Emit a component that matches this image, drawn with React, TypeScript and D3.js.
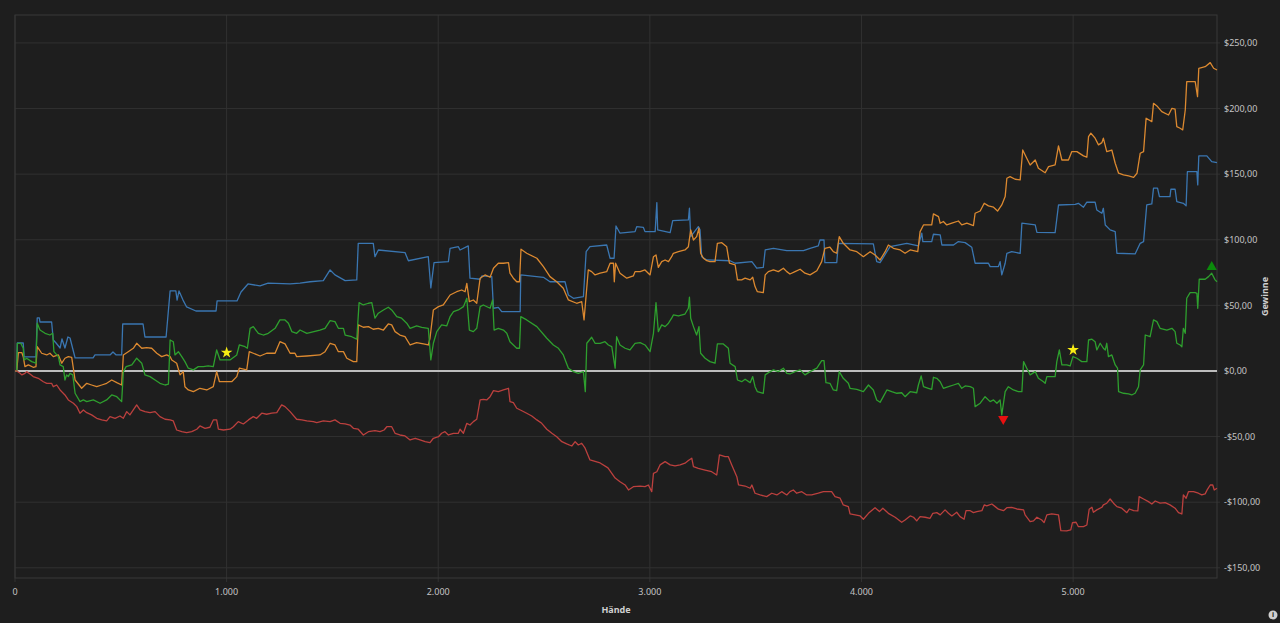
import React from 'react';
import * as d3 from 'd3';

// cumulative winnings per player, [hand, dollars]
const blueSeries: [number, number][] = [[0,0],[8,0],[11,21.3],[39,21.3],[43,10.7],[99,10.7],[105,40.4],[115,40.4],[118,37.3],[173,37.3],[181,23.6],[194,21.3],[213,17.5],[222,24.4],[236,17.5],[250,25.9],[260,25.1],[284,9.9],[369,9.9],[378,12.2],[449,12.2],[463,14.5],[478,12.2],[504,12.2],[509,35.8],[605,35.8],[614,25.9],[714,25.9],[733,61],[760,61],[766,54],[775,61],[794,54],[811,48.8],[855,45.7],[950,45.7],[955,53.4],[1049,53.4],[1068,60.2],[1101,66.3],[1158,64.8],[1196,67],[1300,66.3],[1347,67],[1394,68],[1457,68.8],[1489,77],[1512,73.2],[1560,68.8],[1615,69.4],[1622,97.3],[1693,97.3],[1701,87.1],[1717,92.2],[1843,90.2],[1859,84],[1953,87.1],[1965,63.3],[1980,82.5],[2048,83.3],[2056,93.5],[2095,94.7],[2103,92.2],[2142,95.3],[2150,70.7],[2198,69.9],[2206,72.4],[2253,71.9],[2261,47.8],[2284,48.5],[2300,45.2],[2387,45.2],[2390,73.2],[2497,71.4],[2528,68],[2599,68],[2615,57.9],[2639,55.4],[2686,56.6],[2699,90.9],[2717,94.7],[2796,96],[2812,85.9],[2831,85.9],[2840,110.5],[2859,105],[2930,106.2],[2938,110],[2969,109.5],[2977,106.2],[3025,106.2],[3033,128.3],[3037,107.5],[3096,105.4],[3108,114.6],[3182,115.1],[3187,124],[3193,102.4],[3229,110],[3237,107.5],[3245,87.1],[3269,84.6],[3379,84],[3403,82.1],[3482,83.3],[3505,78.3],[3536,79],[3545,92.2],[3584,93.5],[3647,91.7],[3726,91.7],[3757,93.5],[3796,95.3],[3804,99.8],[3823,99.8],[3827,82.5],[3883,82.5],[3891,97.3],[4056,96.8],[4072,83.3],[4088,82.5],[4120,90.9],[4135,94.7],[4214,97.3],[4269,95.3],[4285,105],[4290,98.6],[4332,98.6],[4340,104.2],[4372,103.7],[4380,96],[4435,96],[4458,98.6],[4490,97.8],[4521,94.3],[4537,82.1],[4600,82.1],[4608,79.5],[4647,79.5],[4655,83.3],[4663,73.2],[4679,82.1],[4687,89.7],[4710,90.9],[4750,89.7],[4758,112.6],[4821,111.3],[4829,105.7],[4915,105.4],[4931,126.5],[5010,127],[5025,127.8],[5049,124.8],[5065,128.6],[5104,128.6],[5112,122.7],[5136,120.2],[5143,124],[5152,111.3],[5175,107.5],[5199,106.2],[5207,89.7],[5293,89.2],[5317,97.3],[5333,98.6],[5348,126.5],[5372,127.3],[5380,139.3],[5399,139.3],[5408,132.9],[5458,132.9],[5462,138.5],[5482,138.5],[5490,129],[5521,127.8],[5534,125.8],[5540,151.9],[5585,151.9],[5589,141.8],[5594,163.9],[5632,163.9],[5655,159.5],[5680,158.8]];

const orangeSeries: [number, number][] = [[0,0],[8,0],[16,14],[32,14],[39,10.9],[47,3.3],[63,4.6],[86,2.8],[99,3.3],[105,18.5],[126,13.5],[150,12.2],[165,13.5],[181,10.9],[205,12.2],[221,5.9],[236,9.7],[252,10.9],[268,10.4],[284,-6.9],[315,-13.2],[339,-9.4],[362,-10.7],[386,-12],[410,-10.7],[433,-9.4],[457,-6.9],[481,-8.9],[504,-10.7],[512,12.2],[535,14.7],[559,17.3],[575,21.1],[599,17.3],[622,17.8],[646,17.3],[670,13.5],[693,10.9],[717,12.2],[733,10.9],[741,8.4],[764,5.9],[780,-3],[795,-0.5],[803,-12],[819,-14.5],[843,-15.8],[874,-13.2],[906,-14.5],[937,-12],[953,-0.5],[966,-8.2],[1024,-8.2],[1048,-4.3],[1060,2.1],[1095,0.8],[1107,14.7],[1126,13.5],[1158,11.4],[1189,13.5],[1229,13.5],[1252,22.3],[1276,20.6],[1300,13.5],[1323,13.5],[1331,10.9],[1379,11.4],[1441,12.2],[1465,14.7],[1489,21.1],[1512,19.8],[1528,14.7],[1552,14.7],[1568,9.7],[1599,7.1],[1615,7.1],[1622,35.1],[1646,33.3],[1670,33.8],[1693,31.8],[1717,32.5],[1741,31.2],[1764,35.8],[1780,35.1],[1796,30],[1819,27.4],[1843,26.1],[1867,19.8],[1898,21.6],[1930,20.6],[1953,19.8],[1961,24.9],[1977,46.5],[2001,49],[2024,50.3],[2056,57.9],[2087,60.4],[2111,61.7],[2127,60.4],[2135,66.8],[2147,52.8],[2166,54.1],[2182,51.6],[2198,70.7],[2221,73.2],[2245,71.4],[2261,78.3],[2284,82.1],[2308,82.1],[2332,82.5],[2339,74.5],[2355,70.7],[2371,68],[2384,68],[2391,92.8],[2418,89.7],[2466,85.9],[2497,79.5],[2528,71.9],[2560,68],[2591,63],[2615,54.1],[2654,51.6],[2678,52.8],[2689,38.9],[2697,54.1],[2709,77],[2725,75.7],[2741,73.2],[2765,74.5],[2796,75.7],[2812,82.1],[2828,82.1],[2832,68],[2838,82.1],[2859,74.5],[2891,70.7],[2922,72.4],[2930,75.7],[2954,75.7],[2977,77],[3001,73.2],[3017,87.1],[3029,88.4],[3040,79],[3056,83.3],[3072,84.6],[3088,83.3],[3103,87.1],[3111,89.7],[3135,90.9],[3166,92.2],[3182,94.7],[3193,107.5],[3206,99.8],[3221,102.4],[3232,108.8],[3240,89.7],[3253,85.9],[3269,84],[3284,83.3],[3308,83.3],[3319,97.3],[3340,97.8],[3363,94.7],[3376,82.1],[3403,80.8],[3414,69.4],[3434,69.4],[3450,70.7],[3474,69.4],[3486,71.4],[3497,64.3],[3508,60.4],[3536,59.7],[3545,73.2],[3560,75.7],[3584,77],[3607,75.7],[3631,78.3],[3647,75.7],[3662,73.9],[3686,75.7],[3710,77.5],[3733,74.5],[3757,73.2],[3789,76.4],[3812,83.3],[3827,93.5],[3851,94.3],[3867,90.9],[3883,89.7],[3895,102.4],[3914,97.3],[3946,92.2],[3978,90.9],[4009,87.1],[4041,90.9],[4064,88.4],[4088,84.6],[4112,90.9],[4127,96],[4151,93.5],[4183,92.2],[4206,89.7],[4230,92.2],[4266,90.9],[4277,106.2],[4293,111.3],[4332,111.3],[4340,119.7],[4364,117.6],[4372,112.6],[4387,113.9],[4403,111.3],[4427,112.6],[4458,114.3],[4474,111.3],[4498,112.6],[4529,110.8],[4537,120.2],[4561,121.9],[4580,127.8],[4600,125.8],[4624,124.8],[4643,121.9],[4663,126.5],[4679,132.9],[4687,146.9],[4702,148.1],[4726,146.1],[4750,145.6],[4762,168.4],[4781,162.1],[4797,157],[4821,160.8],[4836,154.5],[4868,151.1],[4884,155.7],[4915,157],[4931,171.5],[4947,160.8],[4978,160.8],[4994,167.2],[5018,167.2],[5049,163.9],[5065,162.9],[5073,178.6],[5084,181.2],[5104,177.4],[5120,172.3],[5136,174],[5143,177.4],[5159,167.2],[5183,168.4],[5199,158.3],[5215,150.7],[5238,149.4],[5262,148.6],[5286,147.6],[5302,150.7],[5317,165.9],[5333,167.2],[5345,192.6],[5372,190],[5380,204],[5399,201.5],[5419,197.6],[5451,195.1],[5467,200.2],[5482,199.5],[5490,186.2],[5506,185],[5518,183.7],[5530,198.9],[5537,220.5],[5577,220.5],[5588,209.1],[5594,230.7],[5624,231.9],[5648,235],[5664,230.7],[5680,229.4]];

const greenSeries: [number, number][] = [[0,0],[8,0],[11,21.1],[27,21.1],[39,17.3],[43,8.4],[55,9.7],[79,7.1],[99,5.9],[105,36.4],[118,31.2],[142,28.7],[165,27.4],[178,28.7],[184,14.7],[205,10.9],[213,4.6],[228,3.3],[236,-6.9],[244,-3],[252,-4.3],[260,-1.8],[273,-3],[284,-17],[307,-23.4],[323,-22.1],[339,-23.4],[370,-22.1],[402,-24.6],[433,-22.1],[457,-18.3],[481,-19.6],[504,-23.4],[512,-0.5],[525,3.3],[552,4.6],[575,9.7],[599,5.9],[614,-3],[638,-4.3],[662,-6.9],[685,-9.4],[709,-10.7],[725,-10.1],[733,23.6],[748,22.3],[756,12.2],[772,14.7],[788,10.9],[803,7.1],[819,2.1],[843,0.8],[866,3.3],[890,3.3],[913,3.8],[937,3.3],[953,16],[969,8.4],[1016,8.4],[1048,12.2],[1060,19.8],[1087,18.5],[1098,17.3],[1111,32.5],[1126,33.8],[1150,28.7],[1173,27.4],[1197,28.7],[1229,32.5],[1252,38.9],[1276,38.9],[1292,36.4],[1308,30],[1331,28.7],[1347,31.2],[1379,28.7],[1441,31.2],[1465,32.5],[1489,38.3],[1512,37.6],[1528,32.5],[1552,32.5],[1560,27.4],[1591,26.1],[1615,24.2],[1626,52.1],[1646,50.3],[1670,51.6],[1686,52.1],[1701,40.2],[1717,44],[1741,46.5],[1764,48.6],[1780,46.5],[1804,41.4],[1827,40.2],[1851,36.4],[1867,32.5],[1898,34.3],[1922,33.3],[1953,32.5],[1965,8.4],[1977,21.1],[1993,30],[2016,35.1],[2040,34.3],[2056,41.4],[2072,45.2],[2095,46.5],[2119,49],[2135,55.4],[2147,31.2],[2166,30],[2182,32.5],[2198,49],[2213,50.3],[2245,47.8],[2257,54.1],[2264,31.2],[2284,32.5],[2308,31.2],[2324,28.7],[2339,22.3],[2355,19.8],[2371,17.3],[2384,17.3],[2390,41.4],[2418,38.9],[2466,33.8],[2513,24.9],[2544,19.8],[2568,17.3],[2591,12.2],[2615,2.1],[2639,-0.5],[2662,-1.8],[2686,-0.5],[2695,-15.8],[2702,21.1],[2725,25.7],[2741,21.1],[2765,21.1],[2788,22.3],[2804,19.8],[2820,18.5],[2836,2.1],[2843,26.1],[2859,19.8],[2883,17.3],[2906,16],[2930,21.1],[2954,21.6],[2977,19.8],[3001,14.7],[3017,28.7],[3029,52.1],[3040,30],[3056,35.1],[3072,33.8],[3088,36.4],[3103,40.2],[3111,42.7],[3135,41.9],[3166,43.4],[3182,47.8],[3187,56.2],[3193,40.2],[3206,33.8],[3221,27.4],[3232,33.8],[3240,13.5],[3261,9.7],[3284,7.1],[3308,5.9],[3319,20.6],[3347,20.6],[3371,17.3],[3379,5.9],[3403,3.3],[3414,-6.9],[3434,-8.2],[3450,-6.3],[3474,-8.9],[3486,-4.3],[3497,-12],[3508,-15.8],[3536,-17],[3545,-3],[3560,-1.3],[3584,0.8],[3607,-0.5],[3631,2.1],[3647,-1.8],[3662,-2.3],[3686,-0.5],[3710,0.8],[3733,-3],[3757,-0.5],[3789,2.1],[3812,7.9],[3823,7.9],[3832,-8.9],[3851,-9.4],[3867,-14.5],[3883,-15],[3895,-0.5],[3914,-5.6],[3938,-9.4],[3946,-13.2],[3978,-14],[4009,-15.8],[4033,-10.7],[4056,-14.5],[4072,-22.1],[4088,-23.9],[4103,-19.6],[4120,-14.5],[4143,-15.8],[4167,-17],[4190,-16.6],[4206,-19.6],[4230,-15.8],[4261,-16.6],[4269,-10.7],[4282,-3.8],[4293,-12],[4316,-13.2],[4332,-14],[4340,-4.8],[4356,-5.6],[4372,-8.2],[4387,-13.2],[4411,-12],[4435,-10.7],[4458,-9.4],[4474,-13.2],[4490,-11.4],[4514,-12],[4529,-13.2],[4537,-27.2],[4561,-24.6],[4584,-19.6],[4608,-23.4],[4624,-22.1],[4640,-24.6],[4655,-22.1],[4663,-33.5],[4679,-15.8],[4694,-12],[4718,-14.5],[4742,-15.8],[4758,-15.8],[4766,7.1],[4781,2.1],[4797,-3],[4821,-0.5],[4836,-5.6],[4860,-8.2],[4868,-9.4],[4876,-4.3],[4915,-4.3],[4923,7.1],[4935,16],[4947,4.6],[4970,4.6],[4986,3.8],[4999,10.9],[5018,9.7],[5041,7.1],[5065,7.1],[5073,23.6],[5089,24.2],[5104,22.3],[5112,16],[5128,21.1],[5143,17.3],[5152,16],[5159,21.1],[5167,10.9],[5183,12.2],[5199,4.6],[5210,2.1],[5215,-15.8],[5238,-17],[5262,-17.5],[5277,-18.3],[5293,-17],[5309,-12],[5317,0.8],[5333,4.6],[5341,27.4],[5364,26.1],[5380,38.9],[5396,37.6],[5411,32.5],[5443,31.2],[5467,32.5],[5482,30],[5490,21.1],[5506,19.8],[5514,18.5],[5521,32.5],[5530,28.7],[5537,55.4],[5553,59.7],[5577,59.7],[5585,59.2],[5589,47.8],[5596,69.9],[5624,69.9],[5640,71.9],[5655,74.5],[5671,69.4],[5680,68]];

const redSeries: [number, number][] = [[0,0],[8,0],[24,-1.8],[32,-3],[47,-1.8],[55,-0.5],[71,-2.3],[86,-4.3],[110,-5.6],[134,-8.2],[150,-9.4],[173,-9.4],[181,-12],[197,-10.7],[213,-14.5],[236,-18.3],[252,-22.1],[276,-24.6],[292,-27.2],[307,-32.2],[323,-29.7],[339,-31.8],[362,-33.5],[386,-36.1],[410,-37.3],[433,-38.1],[449,-34.8],[473,-36.1],[496,-34.3],[512,-36.1],[528,-31],[543,-33.5],[559,-29.7],[575,-25.9],[591,-29.7],[614,-31],[638,-31.8],[662,-31],[685,-34.8],[709,-36.8],[733,-37.3],[748,-38.1],[764,-45],[788,-46.3],[811,-47],[835,-46.3],[859,-44.4],[874,-41.9],[898,-43.7],[921,-42.9],[937,-37.3],[953,-37.3],[961,-44.4],[985,-45],[1016,-44.4],[1032,-42.5],[1055,-38.6],[1079,-40.4],[1103,-37.3],[1126,-34.8],[1142,-36.1],[1166,-32.2],[1189,-33],[1213,-32.2],[1237,-31.8],[1260,-25.9],[1276,-27.2],[1300,-31],[1331,-36.8],[1355,-37.3],[1379,-38.1],[1410,-38.6],[1426,-39.4],[1457,-38.1],[1489,-38.6],[1512,-37.3],[1536,-39.9],[1560,-40.4],[1583,-41.2],[1599,-43.7],[1622,-44.4],[1646,-48.8],[1670,-46.3],[1701,-45.5],[1725,-46.3],[1744,-45],[1757,-42.5],[1780,-42.5],[1796,-47.5],[1819,-48.8],[1843,-49.5],[1867,-52.6],[1891,-51.3],[1914,-52.6],[1938,-53.9],[1961,-54.6],[1977,-51.3],[2001,-50.1],[2016,-47.5],[2032,-46.3],[2048,-48.8],[2072,-47.5],[2095,-47.5],[2103,-44.4],[2119,-47.5],[2127,-43.7],[2135,-39.9],[2150,-41.2],[2166,-38.6],[2182,-36.8],[2198,-22.1],[2213,-21.6],[2229,-22.1],[2245,-19.6],[2261,-15],[2284,-15.8],[2308,-14.5],[2332,-13.2],[2339,-23.4],[2355,-24.2],[2371,-28.4],[2395,-30.3],[2418,-32.2],[2442,-34.3],[2466,-37.3],[2489,-39.9],[2513,-44.4],[2537,-47.5],[2560,-50.1],[2584,-53.9],[2607,-55.6],[2631,-57.2],[2647,-53.9],[2662,-56.4],[2678,-55.1],[2694,-58.9],[2717,-67.8],[2765,-70.1],[2802,-73.9],[2836,-81.6],[2859,-84.4],[2883,-86.9],[2899,-90.7],[2922,-88.2],[2954,-87.7],[2977,-88.2],[2993,-86.9],[3009,-92],[3017,-78],[3033,-76.8],[3048,-71.6],[3072,-69.1],[3096,-71.6],[3119,-72.4],[3143,-71.6],[3166,-70.3],[3182,-68.3],[3198,-66.5],[3206,-72.9],[3229,-74.2],[3261,-75.5],[3292,-76.8],[3316,-79.3],[3329,-64],[3355,-65.3],[3371,-65.3],[3387,-71.6],[3411,-80.6],[3419,-86.9],[3450,-87.7],[3474,-89.4],[3482,-86.9],[3497,-93.2],[3521,-94.5],[3552,-95.8],[3576,-93.2],[3600,-94.5],[3623,-92],[3647,-94.5],[3662,-92],[3678,-90.7],[3694,-93.2],[3718,-92],[3741,-94.5],[3765,-94.5],[3796,-93.2],[3820,-92],[3843,-92],[3859,-92],[3875,-95.8],[3899,-97],[3914,-102.1],[3938,-103.4],[3946,-109],[3970,-109.7],[3994,-110.5],[4009,-113],[4033,-108.5],[4064,-104.2],[4085,-107.2],[4101,-104.6],[4127,-108.5],[4159,-111.5],[4190,-115.3],[4206,-113.6],[4230,-110.5],[4246,-111.5],[4261,-114.3],[4277,-111],[4301,-111.5],[4324,-112.3],[4337,-108.5],[4356,-108],[4372,-109.7],[4395,-105.9],[4411,-108.5],[4427,-110.5],[4450,-107.7],[4466,-111],[4485,-113],[4494,-106.5],[4514,-106.5],[4529,-108],[4545,-107.2],[4569,-106.5],[4580,-102.1],[4592,-102.9],[4616,-101.4],[4632,-103.4],[4647,-105.4],[4671,-106.5],[4687,-104.2],[4710,-103.9],[4734,-105.2],[4766,-105.9],[4773,-109.7],[4797,-114.9],[4813,-114.3],[4829,-111.5],[4852,-113.6],[4863,-115.6],[4876,-109.7],[4899,-109],[4931,-109.7],[4942,-121.7],[4970,-121.9],[4989,-121.2],[4997,-115.6],[5014,-115.3],[5025,-118.7],[5049,-118.7],[5065,-117.4],[5076,-105.4],[5089,-103.9],[5096,-107.7],[5112,-105.9],[5136,-103.9],[5143,-102.1],[5159,-100.8],[5175,-97.6],[5191,-100.8],[5207,-103.4],[5230,-104.6],[5254,-108],[5266,-105.2],[5286,-106.5],[5306,-106.7],[5312,-95.8],[5333,-97.6],[5356,-99.6],[5372,-101.4],[5388,-99.1],[5411,-100.8],[5435,-100.4],[5458,-102.1],[5482,-104.6],[5498,-108],[5514,-109],[5521,-94.5],[5534,-97],[5545,-92],[5569,-92],[5592,-93.2],[5608,-94.5],[5624,-93.7],[5635,-90.2],[5648,-86.9],[5660,-86.9],[5667,-90.7],[5680,-89.4]];

const xTicks = [0, 1000, 2000, 3000, 4000, 5000];
const yTicks = [-150, -100, -50, 0, 50, 100, 150, 200, 250];

// highlighted points: stars, low and high of the green line
const starPoints: [number, number][] = [[1000, 14], [5000, 16]];
const lowPoint: [number, number] = [4670, -36.6];
const highPoint: [number, number] = [5655, 79.2];

const series = [
  { name: 'blue', data: blueSeries, color: '#3a76b1' },
  { name: 'orange', data: orangeSeries, color: '#dc8930' },
  { name: 'green', data: greenSeries, color: '#2e9f2e' },
  { name: 'red', data: redSeries, color: '#bb403e' },
];

const W = 1280;
const H = 623;
const margin = { left: 15, right: 63, top: 15, bottom: 45 };

const fmtX = (v: number) => (v === 0 ? '0' : `${Math.floor(v / 1000)}.${String(v % 1000).padStart(3, '0')}`);
const fmtY = (v: number) => `${v < 0 ? '-' : ''}$${Math.abs(v)},00`;

const App: React.FC = () => {
  const x = d3.scaleLinear().domain([0, 5680]).range([margin.left, W - margin.right]);
  const y = d3.scaleLinear().domain([-157.8, 271.3]).range([H - margin.bottom, margin.top]);

  const line = d3.line<[number, number]>()
    .x((d) => x(d[0]))
    .y((d) => y(d[1]));

  const star = d3.symbol().type(d3.symbolStar).size(42)();
  const tri = d3.symbol().type(d3.symbolTriangle).size(46)();

  const grid = '#313131';
  const font = '"Noto Sans", "Open Sans", sans-serif';
  const x0 = margin.left;
  const x1 = W - margin.right;
  const y0 = margin.top;
  const y1 = H - margin.bottom;

  return (
    <div style={{ position: 'fixed', left: 0, top: 0, width: W, height: H, background: '#1e1e1e' }}>
      <svg width={W} height={H} style={{ display: 'block' }}>
        <rect x={0} y={0} width={W} height={H} fill="#1e1e1e" />

        {/* grid */}
        {yTicks.map((t) => (
          <line key={`gy${t}`} x1={x0} x2={x1 + 3} y1={y(t)} y2={y(t)} stroke={grid} strokeWidth={1} />
        ))}
        {xTicks.map((t) => (
          <line key={`gx${t}`} x1={x(t)} x2={x(t)} y1={y0} y2={y1 + 4} stroke={grid} strokeWidth={1} />
        ))}
        <rect x={x0} y={y0} width={x1 - x0} height={y1 - y0} fill="none" stroke="#383838" strokeWidth={1} />

        {/* zero line */}
        <line x1={x0} x2={x1} y1={y(0)} y2={y(0)} stroke="#bdbdbd" strokeWidth={2} />

        {series.map((s) => (
          <path key={s.name} d={line(s.data) || ''} fill="none" stroke={s.color} strokeWidth={1.3} strokeLinejoin="round" />
        ))}

        {starPoints.map((p, i) => (
          <path key={`star${i}`} d={star || ''} transform={`translate(${x(p[0])},${y(p[1])})`} fill="#f7ec14" />
        ))}
        <path d={tri || ''} transform={`translate(${x(lowPoint[0])},${y(lowPoint[1])}) rotate(180)`} fill="#e81010" />
        <path d={tri || ''} transform={`translate(${x(highPoint[0])},${y(highPoint[1])})`} fill="#0b8a0b" />

        {/* axis labels */}
        {xTicks.map((t) => (
          <text key={`tx${t}`} x={x(t)} y={y1 + 17} textAnchor="middle" fontFamily={font} fontSize={9} fill="#c4c4c4">
            {fmtX(t)}
          </text>
        ))}
        {yTicks.map((t) => (
          <text key={`ty${t}`} x={x1 + 7} y={y(t)} dy="0.35em" textAnchor="start" fontFamily={font} fontSize={9} fill="#c4c4c4">
            {fmtY(t)}
          </text>
        ))}
        <text x={(x0 + x1) / 2} y={y1 + 35} textAnchor="middle" fontFamily={font} fontSize={9} fontWeight="bold" fill="#d0d0d0">
          Hände
        </text>
        <text
          transform={`translate(${W - 12},${(y0 + y1) / 2}) rotate(-90)`}
          textAnchor="middle"
          fontFamily={font}
          fontSize={9}
          fontWeight="bold"
          fill="#d0d0d0"
        >
          Gewinne
        </text>

        {/* info icon */}
        <circle cx={1273} cy={615} r={4.5} fill="#cfcfcf" />
        <text x={1273} y={615} dy="0.35em" textAnchor="middle" fontFamily={font} fontSize={7} fontWeight="bold" fill="#1e1e1e">
          i
        </text>
      </svg>
    </div>
  );
};

export default App;
